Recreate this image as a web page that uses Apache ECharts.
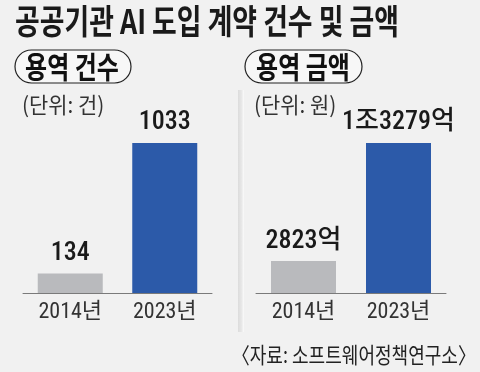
<!DOCTYPE html>
<html><head><meta charset="utf-8">
<script src="https://cdn.jsdelivr.net/npm/echarts@6/dist/echarts.min.js"></script>
<style>html,body{margin:0;padding:0;background:#f1f1f1}#c{width:480px;height:372px}</style>
</head><body><div id="c"></div>
<script>
const categories = ['2014년', '2023년'];
const countValues = [134, 1033];
const countLabels = ['134', '1033'];
const amountValues = [2823, 13279]; // 억원
const amountLabels = ['2823억', '1조3279억'];
const titleText = '공공기관 AI 도입 계약 건수 및 금액';
const leftHeading = '용역 건수';
const rightHeading = '용역 금액';
const leftUnit = '(단위: 건)';
const rightUnit = '(단위: 원)';
const sourceText = '〈자료: 소프트웨어정책연구소〉';

const NARROW = "'Liberation Sans Narrow','Roboto Condensed','Noto Sans CJK KR',sans-serif";
const KR = "'Noto Sans CJK KR','Noto Sans',sans-serif";
const colors = ['#b9babd', '#2c5aa9'];

const chart = echarts.init(document.getElementById('c'), null, {renderer: 'canvas'});

function barSeries(idx, values, labels) {
  return {
    type: 'bar', xAxisIndex: idx, yAxisIndex: idx, barWidth: 65,
    data: values.map((v, i) => ({value: v, itemStyle: {color: colors[i]}})),
    label: {
      show: true, position: 'top', distance: 7,
      formatter: p => labels[p.dataIndex],
      fontFamily: NARROW, fontSize: 26, fontWeight: 500, color: '#1a1a1a'
    },
    silent: true, animation: false
  };
}
function xAx(idx) {
  return {
    type: 'category', gridIndex: idx, data: categories,
    axisLine: {lineStyle: {color: '#7a7a7a', width: 1}},
    axisTick: {show: false},
    axisLabel: {fontFamily: NARROW, fontSize: 22, color: '#333', margin: 8}
  };
}
function yAx(idx, max) {
  return {type: 'value', gridIndex: idx, min: 0, max: max, show: false, splitLine: {show: false}};
}

chart.setOption({
  backgroundColor: '#f1f1f1',
  animation: false,
  grid: [
    {left: 23, width: 189, top: 143, height: 150},
    {left: 256, width: 190, top: 143, height: 150}
  ],
  xAxis: [xAx(0), xAx(1)],
  yAxis: [yAx(0, countValues[1]), yAx(1, amountValues[1])],
  series: [barSeries(0, countValues, countLabels), barSeries(1, amountValues, amountLabels)],
  graphic: [
    {type: 'text', x: 15, y: 4, scaleX: 0.79, originX: 0, originY: 0,
     style: {text: titleText, font: "bold 34px " + KR, fill: '#1a1a1a', textVerticalAlign: 'top'}},
    {type: 'rect', shape: {x: 15, y: 50, width: 116, height: 33, r: 16.5},
     style: {fill: '#f7f7f7', stroke: '#222', lineWidth: 1.2}},
    {type: 'text', x: 72, y: 66.5, scaleX: 0.8, originX: 0, originY: 0,
     style: {text: leftHeading, font: "bold 30px " + KR, fill: '#111', textAlign: 'center', textVerticalAlign: 'middle'}},
    {type: 'rect', shape: {x: 245, y: 50, width: 117, height: 33, r: 16.5},
     style: {fill: '#f7f7f7', stroke: '#222', lineWidth: 1.2}},
    {type: 'text', x: 303, y: 66.5, scaleX: 0.8, originX: 0, originY: 0,
     style: {text: rightHeading, font: "bold 30px " + KR, fill: '#111', textAlign: 'center', textVerticalAlign: 'middle'}},
    {type: 'text', x: 22, y: 105, scaleX: 0.95, originX: 0, originY: 0,
     style: {text: leftUnit, font: "22px " + KR, fill: '#333', textVerticalAlign: 'middle'}},
    {type: 'text', x: 254, y: 105, scaleX: 0.95, originX: 0, originY: 0,
     style: {text: rightUnit, font: "22px " + KR, fill: '#333', textVerticalAlign: 'middle'}},
    {type: 'rect', shape: {x: 238, y: 90, width: 6, height: 242},
     style: {fill: new echarts.graphic.LinearGradient(0, 0, 1, 0, [
       {offset: 0, color: '#dcdcdc'}, {offset: 0.6, color: '#e8e8e8'}, {offset: 1, color: '#fbfbfb'}])}},
    {type: 'text', x: 476, y: 355, scaleX: 0.82, originX: 0, originY: 0,
     style: {text: sourceText, font: "22px " + KR, fill: '#222', textAlign: 'right', textVerticalAlign: 'middle'}}
  ]
});
</script></body></html>
